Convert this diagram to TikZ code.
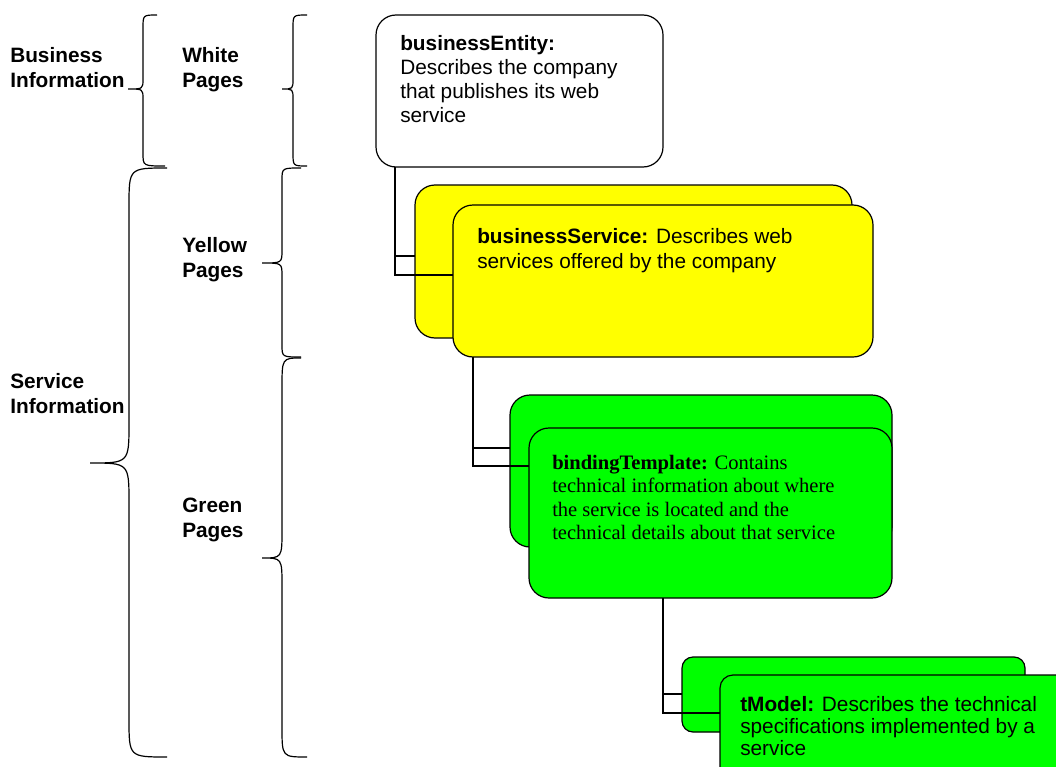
\documentclass[tikz,border=0pt]{standalone}
\usepackage{fontspec}
\setmainfont{Liberation Sans}
\newfontfamily\serifface{Liberation Serif}
\usetikzlibrary{calc}
\definecolor{ypage}{RGB}{255,255,0}
\definecolor{gpage}{RGB}{0,255,0}
\def\pxu{0.75pt}
% #1 xline, #2 xtop tip, #3 ytop, #4 xmid, #5 ymid, #6 xbottom tip, #7 ybottom, #8 end curl, #9 mid curl
\newcommand\mybrace[9]{%
  \draw[brc] (#2,#3) .. controls (#1,#3) and (#1,#3) .. (#1,#3+#8)
    -- (#1,#5-#9) .. controls (#1,#5) and (#1,#5) .. (#4,#5)
    .. controls (#1,#5) and (#1,#5) .. (#1,#5+#9)
    -- (#1,#7-#8) .. controls (#1,#7) and (#1,#7) .. (#6,#7);}
\begin{document}
\begin{tikzpicture}[x=0.75pt,y=-0.75pt,
  lbl/.style={anchor=north west, inner sep=0pt, align=left, font=\fontsize{15.6}{18.75}\selectfont\bfseries},
  txt/.style={anchor=north west, inner sep=0pt, align=left, font=\fontsize{15.6}{18}\selectfont},
  card/.style={draw=black, line width=0.9pt, anchor=north west, inner sep=0pt, outer sep=0pt, rounded corners=20*\pxu},
  link/.style={draw=black, line width=0.9pt},
  brc/.style={draw=black, line width=0.9pt}]
\useasboundingbox (0,0) rectangle (1056,767);
\clip (0,0) rectangle (1056,767);

% labels
\node[lbl] (bizinfo) at (10,47) {Business\\Information};
\node[lbl] (white) at (182,47) {White\\Pages};
\node[lbl] (yellow) at (182,237) {Yellow\\Pages};
\node[lbl] (svcinfo) at (10,373) {Service\\Information};
\node[lbl] (green) at (182,498) {Green\\Pages};

% braces
\mybrace{143}{157}{15}{128}{89}{165}{166}{13}{10}
\mybrace{293}{307}{15}{282}{89}{307}{166}{13}{10}
\mybrace{129}{167}{168}{90}{463}{167}{757}{38}{40}
\mybrace{282}{301}{168}{262}{263}{301}{357}{12}{13}
\mybrace{282}{301}{358}{262}{558}{307}{757}{30}{28}

% businessEntity
\node[card, fill=white, minimum width=287*\pxu, minimum height=152*\pxu] (entity) at (376,15) {};
\node[txt] (entitytext) at (400,35) {\textbf{businessEntity:}\\Describes the company\\that publishes its web\\service};

% businessService
\node[card, fill=ypage, minimum width=437*\pxu, minimum height=153*\pxu] (svcback) at (415,185) {};
\coordinate (ea) at ($(entity.south west)+(19,0)$);
\draw[link] (ea) |- ($(svcback.north west)+(38,90)$);
\draw[link] ($(ea)+(0,89)$) -- ($(svcback.north west)+(0,71)$);
\node[card, fill=ypage, minimum width=420*\pxu, minimum height=152*\pxu] (svc) at (453,205) {};
\node[txt, font=\fontsize{15.6}{18.75}\selectfont] (svctext) at (477,228) {\textbf{businessService:} Describes web\\services offered by the company};

% bindingTemplate
\node[card, fill=gpage, minimum width=382*\pxu, minimum height=152*\pxu] (bindback) at (510,395) {};
\coordinate (sa) at ($(svc.south west)+(20,0)$);
\draw[link] (sa) |- ($(bindback.north west)+(19,71)$);
\draw[link] ($(sa)+(0,91)$) -- ($(bindback.north west)+(0,53)$);
\node[card, fill=gpage, minimum width=363*\pxu, minimum height=170*\pxu] (bind) at (529,428) {};
\node[txt, font=\fontsize{15.4}{17.5}\selectfont\serifface] (bindtext) at (552,455) {\textbf{bindingTemplate:} Contains\\technical information about where\\the service is located and the\\technical details about that service};

% tModel
\node[card, fill=gpage, rounded corners=11*\pxu, minimum width=343*\pxu, minimum height=75*\pxu] (tmback) at (682,657) {};
\coordinate (ba) at ($(bind.south west)+(134,0)$);
\draw[link] (ba) |- ($(tmback.north west)+(38,56)$);
\draw[link] ($(ba)+(0,96)$) -- ($(tmback.north west)+(0,37)$);
\node[card, fill=gpage, rounded corners=13*\pxu, minimum width=380*\pxu, minimum height=140*\pxu] (tm) at (720,675) {};
\node[txt, font=\fontsize{15.6}{16.5}\selectfont] (tmtext) at (740,696) {\textbf{tModel:} Describes the technical\\specifications implemented by a\\service};
\end{tikzpicture}
\end{document}
